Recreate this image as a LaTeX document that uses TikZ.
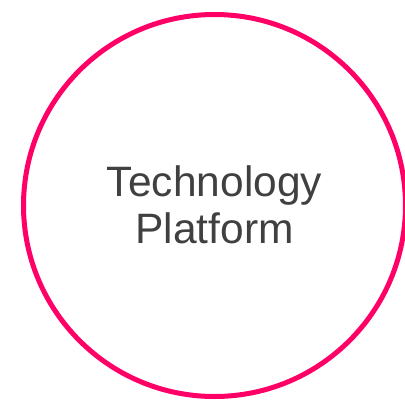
\documentclass[tikz,border=0pt]{standalone}
\usepackage{fontspec}
\setmainfont{Liberation Sans}
\definecolor{ringpink}{HTML}{FF0066}
\definecolor{labelgray}{HTML}{404040}
\begin{document}
\begin{tikzpicture}[x=1pt,y=1pt,
  ring/.style={draw=ringpink,line width=5pt,circle,minimum size=382pt,inner sep=0pt},
  label/.style={text=labelgray,font=\fontsize{42.5}{48}\selectfont,inner sep=0pt,anchor=base}]
\useasboundingbox (0,0) rectangle (405,-402);
\node[ring] (circ) at (214.5,-205.5) {};
\node[label] (t1) at (214.5,-196) {Technology};
\node[label] (t2) at (214.5,-243.5) {Platform};
\end{tikzpicture}
\end{document}
